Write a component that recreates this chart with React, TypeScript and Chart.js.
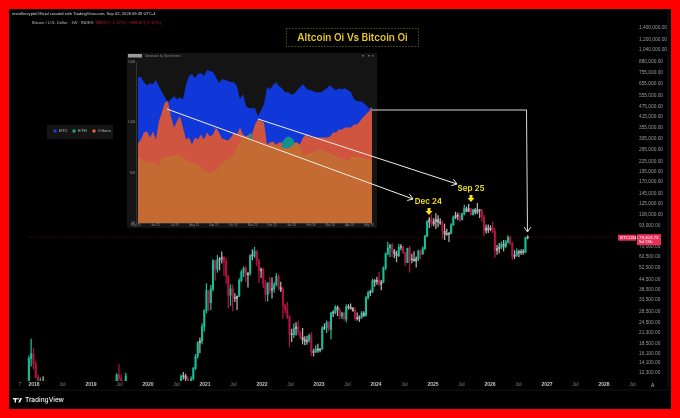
import { useEffect, useRef } from "react"
import { Chart, registerables } from "chart.js"

Chart.register(...registerables)

const uiFont = '"Liberation Sans", Arial, sans-serif'

// price axis of the big chart
const priceTicks = [
  1400000, 1200000, 1040000, 880000, 755000, 655000, 555000, 475000, 415000, 355000, 305000, 265000, 225000,
  195000, 170000, 145000, 125000, 108000, 93000, 70000, 60500, 52500, 44500, 38500, 33500, 28500, 24500, 21300,
  18500, 16100, 14100, 12300,
]
const timeTicks = [
  2017.754, 2018, 2018.5, 2019, 2019.5, 2020, 2020.5, 2021, 2021.5, 2022, 2022.5, 2023, 2023.5, 2024, 2024.5, 2025,
  2025.5, 2026, 2026.5, 2027, 2027.5, 2028, 2028.5,
]
const timeLabels = [
  "7", "2018", "Jul", "2019", "Jul", "2020", "Jul", "2021", "Jul", "2022", "Jul", "2023", "Jul", "2024", "Jul", "2025",
  "Jul", "2026", "Jul", "2027", "Jul", "2028", "Jul",
]

// the few candles that poke above the bottom of the scale before the main run
const earlyYears = [
  2017.91, 2017.95, 2017.99, 2018.03, 2018.07, 2018.11, 2018.16, 2019.45, 2019.49, 2019.53, 2019.61, 2020.58, 2020.62,
  2020.66, 2020.7,
]
const earlyOpens = [9000, 15000, 16000, 14000, 11600, 9000, 9500, 9500, 12000, 11400, 10300, 10900, 11700, 11800, 11400]
const earlyCloses = [15000, 16000, 14000, 11600, 9000, 10500, 9700, 12000, 11400, 10000, 11800, 11700, 11800, 11400, 10700]
const earlyHighs = [15500, 19600, 17200, 14500, 12000, 11500, 11700, 12200, 13800, 12000, 12300, 12000, 12400, 12100, 11700]
const earlyLows = [8800, 13500, 13000, 11500, 8000, 8500, 9000, 9000, 10800, 9500, 9800, 10500, 11300, 11000, 10000]

// main run, two weeks per candle, each opens on the previous close
const firstOpen = 10700
const lastYear = 2026.66
const yearStep = 0.03833
const closes = [
  11400, 13100, 15500, 18600, 19100, 23300, 29000, 38200, 32300, 39000, 57500, 51000, 58000, 58700, 60000, 57000, 46500,
  35700, 39000, 34600, 34200, 35300, 43800, 49000, 51700, 47300, 48200, 61500, 61300, 65500, 57300, 50000, 50800, 41800,
  36200, 42400, 38400, 39000, 41300, 46300, 39700, 38500, 31300, 29400, 26600, 21000, 20800, 22600, 23200, 21500, 20000,
  19400, 19000, 19300, 20600, 16300, 16400, 17100, 16800, 17100, 22700, 22900, 24600, 22400, 28000, 28200, 30300, 29200,
  26900, 28000, 25800, 30500, 30300, 29800, 29000, 26000, 25900, 26500, 28000, 27100, 34500, 37000, 37400, 43700, 43000,
  44000, 41600, 43000, 52100, 63100, 68400, 71300, 65700, 63100, 61500, 69000, 69600, 64300, 55900, 68100, 58100, 58400,
  57300, 59100, 65600, 62900, 67900, 80400, 97900, 101200, 95100, 98300, 101000, 97700, 96100, 86000, 82600, 82400, 83700,
  93700, 104000, 107000, 105700, 101000, 109200, 117300, 113000, 117500, 108200, 115300, 112000, 115000, 114500, 104700,
  86800, 90000, 88000, 90000, 86000, 66000, 68000, 69000, 72000, 70000, 74000, 79000, 73000, 61000, 62000, 65000, 64000,
  65000, 64500, 78500, 79300,
]
const highs = [
  11700, 13300, 15900, 18900, 19900, 24200, 29300, 41900, 38000, 40900, 58300, 58000, 61800, 60000, 64800, 61000, 59500,
  47000, 41300, 41300, 36600, 35400, 45000, 50500, 52900, 52900, 49000, 62500, 67000, 69000, 66000, 59000, 52000, 51900,
  44000, 42600, 45800, 45400, 42500, 48200, 47400, 42900, 39900, 31400, 32400, 27000, 22500, 24200, 24600, 25200, 21800,
  22700, 20300, 20400, 21000, 21400, 17100, 17900, 18300, 17200, 23300, 24200, 25200, 25000, 28400, 29000, 31000, 30900,
  29900, 28400, 28400, 31400, 31500, 31800, 30300, 30200, 28100, 27000, 28600, 28600, 35200, 37900, 38400, 44700, 44300,
  45900, 49000, 43900, 52800, 64000, 73800, 71700, 72800, 67200, 65500, 71900, 72000, 70000, 64500, 68300, 70000, 62800,
  65000, 60500, 66500, 66500, 69500, 81500, 99500, 104000, 108300, 102800, 109500, 106500, 102500, 99500, 95000, 88500,
  84700, 95700, 105800, 112000, 110500, 110600, 110500, 123200, 120200, 124400, 117600, 116800, 118000, 126200, 115700,
  116400, 107500, 94100, 94000, 93000, 97500, 90000, 71000, 73000, 74500, 76000, 76000, 81000, 80000, 74000, 66000, 67500,
  66500, 67000, 67000, 79500, 81000,
]
const lows = [
  10500, 11200, 12900, 15100, 16200, 18300, 21800, 28000, 28800, 29300, 37900, 44000, 49000, 50500, 55500, 47000, 42000,
  30000, 31000, 28800, 32700, 29300, 35000, 43000, 46000, 43000, 40000, 47000, 58000, 60000, 53500, 42500, 45500, 39700,
  33000, 33000, 36800, 34300, 37100, 40700, 38600, 37500, 26000, 28000, 25900, 17600, 18900, 20000, 20700, 20800, 19600,
  18300, 18100, 18200, 18700, 15600, 15500, 16300, 16300, 16400, 17000, 22300, 21400, 21900, 19600, 26600, 27700, 27000,
  25800, 25900, 25300, 24800, 29500, 29500, 28600, 25300, 25400, 24900, 26000, 26600, 26800, 33900, 35500, 37100, 40300,
  41500, 40800, 38500, 42500, 50800, 62300, 60800, 60700, 59700, 56500, 60600, 66600, 63500, 53500, 55800, 49000, 55800,
  57000, 52500, 57500, 59000, 62800, 66800, 80000, 90500, 92200, 92500, 89200, 91200, 94500, 78200, 76600, 81200, 74500,
  83000, 93300, 102100, 100400, 98200, 100000, 107500, 112000, 112700, 107300, 107300, 108700, 109500, 103500, 98900,
  80600, 83800, 84500, 86500, 84000, 60000, 62500, 64000, 67500, 65500, 68500, 73000, 71500, 58500, 59000, 61000, 60500,
  62500, 62500, 64000, 77500,
]
const lastPriceLabel = "79,303.73"

// inset chart
const insetMonthLabels = [
  "May 25", "Jun 25", "Jul 25", "Aug 25", "Sep 25", "Oct 25", "Nov 25", "Dec 25", "Jan 26", "Feb 26", "Mar 26", "Apr 26", "May 26",
]
const insetValueTicks = [0, 50, 100, 160]
const btcTop = [
  145, 145, 140, 137, 139, 138, 142, 136, 130, 125, 120, 123, 126, 123, 125, 123, 137, 146, 148, 144, 148, 149, 146, 152, 151,
  150, 145, 139, 143, 142, 141, 140, 140, 136, 123, 128, 116, 114, 114, 114, 106, 112, 118, 135, 133, 137, 140, 136, 134, 130,
  130, 128, 128, 132, 135, 138, 134, 132, 132, 130, 130, 130, 132, 134, 137, 134, 132, 134, 133, 134, 132, 130, 123, 121, 121,
  120, 117, 114, 115,
]
const overlapTop = [
  79, 83, 90, 91, 85, 91, 83, 101, 110, 120, 121, 106, 95, 101, 106, 95, 83, 85, 78, 85, 83, 88, 83, 90, 86, 88, 95, 90, 84, 83,
  82, 85, 90, 88, 95, 88, 86, 88, 88, 98, 103, 101, 100, 78, 80, 81, 78, 80, 80, 76, 76, 78, 80, 80, 78, 85, 88, 86, 85, 85, 85,
  85, 85, 85, 86, 90, 90, 93, 93, 95, 95, 95, 98, 98, 101, 105, 108, 111, 115,
]
const ethTop = [
  null, null, null, null, null, null, null, null, null, null, null, null, null, null, null, null, null, null, null, null, null,
  null, null, null, null, null, null, null, null, null, null, null, null, null, null, null, null, 89, 89, null, null, null, null,
  null, null, null, null, null, 80, 84, 86, 85, 82, null, null, null, null, null, null, null, null, null, null, null, null, null,
  null, null, null, null, null, null, null, null, null, null, null, null, null,
]
const othersTop = [
  65, 64, 61, 61, 60, 60, 59, 56, 64, 66, 66, 66, 67, 68, 66, 65, 63, 61, 60, 59, 58, 56, 53, 51, 50, 51, 53, 56, 60, 61, 63, 66,
  68, 75, 81, 85, 86, 85, 82, 80, 80, 79, 78, 77, 77, 78, 76, 76, 75, 74, 74, 76, 78, 80, 76, 67, 68, 69, 70, 71, 73, 73, 71, 70,
  69, 67, 66, 65, 64, 63, 62, 65, 66, 66, 65, 65, 64, 63, 63,
]
const legendNames = ["BTC", "ETH", "Others"]
const legendColors = ["#1a3fe0", "#12a37c", "#e0602a"]

const candleColor = (open: number, close: number) => {
  if (Math.abs(close - open) / open < 0.04) return "#b0b0b0"
  return close > open ? "#19bd98" : "#b01340"
}

const isYearTick = (c: any) => Number.isInteger(c.tick?.value)

function drawHead(ctx: CanvasRenderingContext2D, fromX: number, fromY: number, toX: number, toY: number) {
  const angle = Math.atan2(toY - fromY, toX - fromX)
  ctx.beginPath()
  ctx.moveTo(toX - 6 * Math.cos(angle - 0.6), toY - 6 * Math.sin(angle - 0.6))
  ctx.lineTo(toX, toY)
  ctx.lineTo(toX - 6 * Math.cos(angle + 0.6), toY - 6 * Math.sin(angle + 0.6))
  ctx.stroke()
}

function drawYellowArrow(ctx: CanvasRenderingContext2D, x: number, top: number) {
  ctx.fillStyle = "#f5e21a"
  ctx.beginPath()
  ctx.moveTo(x - 1.5, top)
  ctx.lineTo(x + 1.5, top)
  ctx.lineTo(x + 1.5, top + 3)
  ctx.lineTo(x + 3.5, top + 3)
  ctx.lineTo(x, top + 7)
  ctx.lineTo(x - 3.5, top + 3)
  ctx.lineTo(x - 1.5, top + 3)
  ctx.closePath()
  ctx.fill()
}

// price line, header texts, axis edges and the logo around the candles
const chromePlugin = {
  id: "chrome",
  beforeDatasetsDraw(chart: Chart) {
    const { ctx } = chart
    const lineY = chart.scales.y.getPixelForValue(closes[closes.length - 1])
    ctx.save()
    ctx.strokeStyle = "#4a1420"
    ctx.lineWidth = 0.7
    ctx.setLineDash([1.5, 1.5])
    ctx.beginPath()
    ctx.moveTo(28, lineY)
    ctx.lineTo(618, lineY)
    ctx.stroke()
    ctx.restore()
  },
  afterDraw(chart: Chart) {
    const { ctx } = chart
    const lineY = chart.scales.y.getPixelForValue(closes[closes.length - 1])
    ctx.save()
    ctx.strokeStyle = "#1e1e1e"
    ctx.lineWidth = 0.7
    ctx.beginPath()
    ctx.moveTo(9, 390)
    ctx.lineTo(668, 390)
    ctx.moveTo(668, 10)
    ctx.lineTo(668, 390)
    ctx.stroke()

    ctx.textBaseline = "middle"
    ctx.textAlign = "left"
    ctx.font = `4.1px ${uiFont}`
    ctx.fillStyle = "#d8d8d8"
    ctx.fillText("enerillecryptoOfficial created with TradingView.com, Sep 02, 2026 09:49 UTC-4", 12, 14)
    ctx.fillStyle = "#b8b8b8"
    ctx.fillText("Bitcoin / U.S. Dollar · 1W · INDEX", 32, 22.5)
    ctx.fillStyle = "#c8183c"
    ctx.fillText("−939.87 (−1.17%)  −939.87 (−1.17%)", 93, 22.5)

    ctx.fillStyle = "#e8305a"
    ctx.fillRect(618, lineY - 2.5, 18, 6)
    ctx.fillRect(637, lineY - 3, 24, 11)
    ctx.fillStyle = "#fff"
    ctx.font = `4.4px ${uiFont}`
    ctx.fillText("BTCUSD", 620, lineY + 0.5)
    ctx.fillText(lastPriceLabel, 639, lineY + 0.2)
    ctx.fillText("5d 15h", 639, lineY + 5)

    ctx.fillStyle = "#c0c0c0"
    ctx.font = `5px ${uiFont}`
    ctx.fillText("A", 651, 385.5)

    // logo
    ctx.fillStyle = "#f2f2f2"
    ctx.fillRect(13, 398, 4.5, 1.4)
    ctx.fillRect(14.6, 398, 1.4, 4.5)
    ctx.beginPath()
    ctx.arc(18.2, 398.8, 0.8, 0, Math.PI * 2)
    ctx.fill()
    ctx.beginPath()
    ctx.moveTo(20.2, 398)
    ctx.lineTo(22, 398)
    ctx.lineTo(20, 402.5)
    ctx.lineTo(18.2, 402.5)
    ctx.closePath()
    ctx.fill()
    ctx.font = "500 6.5px Inter, sans-serif"
    ctx.fillText("TradingView", 25, 400.2)
    ctx.restore()
  },
}

// panel behind the inset before it draws, then everything that sits above the inset
const insetPlugin = {
  id: "inset",
  beforeDraw(chart: Chart) {
    const { ctx } = chart
    ctx.save()
    ctx.fillStyle = "#141414"
    ctx.fillRect(127, 53, 250, 175)
    ctx.fillStyle = "#9a9a9a"
    ctx.fillRect(128, 54, 14, 3.5)
    ctx.fillStyle = "#8c8c8c"
    ctx.font = `2.8px ${uiFont}`
    ctx.textBaseline = "middle"
    ctx.fillText("Dominance by Open Interest", 145, 55.8)
    ctx.fillStyle = "#666"
    ctx.fillRect(362, 55, 2, 1.5)
    ctx.fillRect(368, 55, 2, 1.5)
    ctx.fillRect(372, 55, 1.5, 1.5)
    ctx.restore()
  },
  afterDraw(chart: Chart) {
    const { ctx } = chart
    ctx.save()

    // legend box left of the panel
    ctx.fillStyle = "#141414"
    ctx.fillRect(47, 125, 66, 14)
    const legendX = [55, 74, 94]
    ctx.font = `4.4px ${uiFont}`
    ctx.textBaseline = "middle"
    legendNames.forEach((name, i) => {
      ctx.fillStyle = legendColors[i]
      ctx.beginPath()
      ctx.arc(legendX[i], 131, 1.8, 0, Math.PI * 2)
      ctx.fill()
      ctx.fillStyle = "#bdbdbd"
      ctx.fillText(name, legendX[i] + 4, 131.2)
    })

    // title
    ctx.strokeStyle = "#80791c"
    ctx.lineWidth = 1
    ctx.setLineDash([1, 2])
    ctx.strokeRect(286.5, 28.5, 132, 18)
    ctx.setLineDash([])
    ctx.fillStyle = "#e9c91e"
    ctx.font = "600 10px Inter, sans-serif"
    ctx.textAlign = "center"
    ctx.fillText("Altcoin Oi Vs Bitcoin Oi", 352.5, 37.5)

    // arrows out of the inset
    ctx.strokeStyle = "#f2efe6"
    ctx.lineWidth = 1
    ctx.beginPath()
    ctx.moveTo(167, 109)
    ctx.lineTo(413, 199)
    ctx.moveTo(258, 119)
    ctx.lineTo(457, 184)
    ctx.stroke()
    drawHead(ctx, 167, 109, 413, 199)
    drawHead(ctx, 258, 119, 457, 184)
    ctx.strokeStyle = "#d8d8d8"
    ctx.beginPath()
    ctx.moveTo(372, 110)
    ctx.lineTo(526.5, 110)
    ctx.lineTo(527.5, 232)
    ctx.stroke()
    drawHead(ctx, 527.5, 110, 527.5, 232)

    ctx.fillStyle = "#f5e21a"
    ctx.font = "600 8px Inter, sans-serif"
    ctx.fillText("Dec 24", 428.5, 202)
    ctx.fillText("Sep 25", 471, 189)
    drawYellowArrow(ctx, 429, 208)
    drawYellowArrow(ctx, 471, 195)
    ctx.restore()
  },
}

export default function App() {
  const mainRef = useRef<HTMLCanvasElement>(null)
  const insetRef = useRef<HTMLCanvasElement>(null)

  useEffect(() => {
    if (!mainRef.current || !insetRef.current) return

    const years = [
      ...earlyYears,
      ...closes.map((_, i) => lastYear - (closes.length - 1 - i) * yearStep),
    ]
    const opens = [...earlyOpens, ...closes.map((_, i) => (i === 0 ? firstOpen : closes[i - 1]))]
    const allCloses = [...earlyCloses, ...closes]
    const allHighs = [...earlyHighs, ...highs]
    const allLows = [...earlyLows, ...lows]
    const colors = years.map((_, i) => candleColor(opens[i], allCloses[i]))

    const main = new Chart(mainRef.current, {
      type: "bar",
      data: {
        datasets: [
          {
            label: "Body",
            data: years.map((x, i) => ({ x, y: [opens[i], allCloses[i]] })),
            backgroundColor: colors,
            barThickness: 1.4,
            minBarLength: 1,
            grouped: false,
          },
          {
            label: "Wick",
            data: years.map((x, i) => ({ x, y: [allLows[i], allHighs[i]] })),
            backgroundColor: colors,
            barThickness: 0.6,
            grouped: false,
          },
        ],
      } as any,
      options: {
        responsive: false,
        animation: false,
        events: [],
        layout: { padding: { left: 10, right: 9, top: 10, bottom: 28 } },
        plugins: { legend: { display: false }, tooltip: { enabled: false } },
        scales: {
          x: {
            type: "linear",
            offset: false,
            min: 2017.579,
            max: 2028.561,
            grid: { display: false, drawTicks: false },
            border: { display: false },
            afterBuildTicks: (scale: any) => {
              scale.ticks = timeTicks.map((value) => ({ value }))
            },
            afterFit: (scale: any) => {
              scale.height = 9
            },
            ticks: {
              autoSkip: false,
              maxRotation: 0,
              padding: 1,
              callback: (value: any) => timeLabels[timeTicks.indexOf(Number(value))],
              color: (c: any) => (isYearTick(c) ? "#c4c4c4" : "#808080"),
              font: (c: any) => ({
                size: 5,
                family: uiFont,
                weight: isYearTick(c) ? "bold" : "normal",
              }),
            },
          },
          y: {
            type: "logarithmic",
            position: "right",
            min: 11020,
            max: 1792000,
            grid: { display: false, drawTicks: false },
            border: { display: false },
            afterBuildTicks: (scale: any) => {
              scale.ticks = priceTicks.map((value) => ({ value }))
            },
            afterFit: (scale: any) => {
              scale.width = 35
            },
            ticks: {
              autoSkip: false,
              padding: 3,
              color: "#9a9a9a",
              font: { size: 4.8, family: uiFont },
              callback: (value: any) =>
                Number(value).toLocaleString("en-US", { minimumFractionDigits: 2, maximumFractionDigits: 2 }),
            },
          },
        },
      },
      plugins: [chromePlugin],
    } as any)

    const months = btcTop.map((_, i) => 0.1 + i * 0.1545)
    const toPoints = (values: (number | null)[]) => values.map((y, i) => ({ x: months[i], y }))
    const area = (label: string, values: (number | null)[], color: string) => ({
      label,
      data: toPoints(values),
      backgroundColor: color,
      borderWidth: 0,
      pointRadius: 0,
      fill: "origin",
      tension: 0,
    })

    const inset = new Chart(insetRef.current, {
      type: "line",
      data: {
        datasets: [
          area("Others", othersTop, "#c46b33"),
          area("ETH", ethTop, "#14928a"),
          area("Overlap", overlapTop, "#cf5540"),
          area("BTC", btcTop, "#1038d8"),
        ],
      } as any,
      options: {
        responsive: false,
        animation: false,
        events: [],
        layout: { padding: { left: 127, right: 308, top: 62, bottom: 190 } },
        plugins: { legend: { display: false }, tooltip: { enabled: false } },
        scales: {
          x: {
            type: "linear",
            min: 0,
            max: 12.15,
            grid: { display: false, drawTicks: false },
            border: { color: "#333" },
            afterBuildTicks: (scale: any) => {
              scale.ticks = insetMonthLabels.map((_, i) => ({ value: i }))
            },
            afterFit: (scale: any) => {
              scale.height = 5
            },
            ticks: {
              autoSkip: false,
              maxRotation: 0,
              padding: 0.5,
              color: "#8c8c8c",
              font: { size: 3, family: uiFont },
              callback: (value: any) => insetMonthLabels[Number(value)],
            },
          },
          y: {
            min: 0,
            max: 160,
            grid: { display: false, drawTicks: false },
            border: { color: "#333" },
            afterBuildTicks: (scale: any) => {
              scale.ticks = insetValueTicks.map((value) => ({ value }))
            },
            afterFit: (scale: any) => {
              scale.width = 9
            },
            ticks: {
              autoSkip: false,
              padding: 1,
              color: "#8c8c8c",
              font: { size: 3, family: uiFont },
              callback: (value: any) => `${value}B`,
            },
          },
        },
      },
      plugins: [insetPlugin],
    } as any)

    return () => {
      main.destroy()
      inset.destroy()
    }
  }, [])

  return (
    <div style={{ position: "fixed", left: 0, top: 0, width: 680, height: 418, background: "#fe0000", overflow: "hidden" }}>
      <div style={{ position: "absolute", left: 9, top: 9, width: 662, height: 400, background: "#000" }} />
      <canvas ref={mainRef} width={680} height={418} style={{ position: "absolute", left: 0, top: 0 }} />
      <canvas ref={insetRef} width={680} height={418} style={{ position: "absolute", left: 0, top: 0 }} />
    </div>
  )
}
